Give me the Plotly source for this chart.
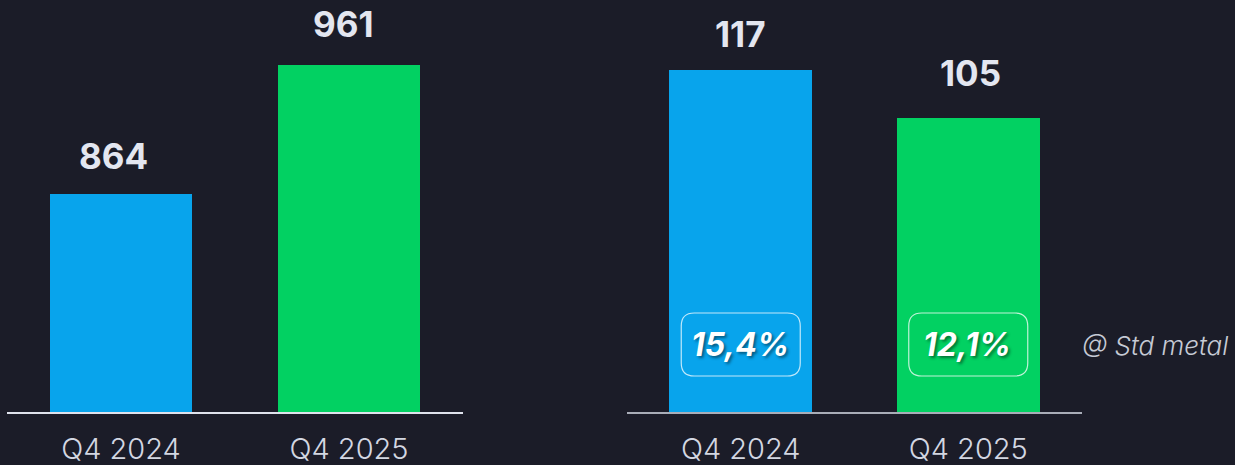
import plotly.graph_objects as go

# ---- data ----
categories = ["Q4 2024", "Q4 2025"]
left_values = [864, 961]
right_values = [117, 105]
right_margins = ["15,4%", "12,1%"]
bar_colors = ["#08a4ec", "#02d162"]
note_text = "@ Std metal"

# label offsets (style)
left_label_shift = [(-8, 15), (-6, 18)]
right_label_shift = [(0, 13), (2, 22)]

W, H = 1235, 465
BG = "#1b1c28"
LABEL_COLOR = "#e3e6f0"
TICK_COLOR = "#d3d7e2"
FONT = "Inter"

fig = go.Figure()
fig.add_trace(go.Bar(x=categories, y=left_values, marker=dict(color=bar_colors, line_width=0),
                     width=0.627, xaxis="x", yaxis="y", hoverinfo="skip", showlegend=False))
fig.add_trace(go.Bar(x=categories, y=right_values, marker=dict(color=bar_colors, line_width=0),
                     width=0.627, xaxis="x2", yaxis="y2", hoverinfo="skip", showlegend=False))

base_px = 412
ydom = [(H - base_px) / H, 1.0]

xaxis_common = dict(
    type="category", range=[-0.5, 1.5], showgrid=False, zeroline=False,
    showline=True, linewidth=2, ticks="", ticklabelstandoff=10, automargin=False,
    tickfont=dict(family=FONT, size=29, color=TICK_COLOR, weight=300),
    fixedrange=True,
)
yaxis_common = dict(visible=False, showgrid=False, zeroline=False, fixedrange=True,
                    domain=ydom, automargin=False)

fig.update_layout(
    width=W, height=H,
    paper_bgcolor=BG, plot_bgcolor=BG,
    margin=dict(l=0, r=0, t=0, b=0, autoexpand=False),
    bargap=0,
    xaxis=dict(domain=[7 / W, 463 / W], linecolor="#dfe2ec", anchor="y", **xaxis_common),
    xaxis2=dict(domain=[627 / W, 1082 / W], linecolor="#a9adb8", anchor="y2", **xaxis_common),
    yaxis=dict(range=[700, 1009.8], anchor="x", **yaxis_common),
    yaxis2=dict(range=[31.5, 134.5], anchor="x2", **yaxis_common),
)

annotations = []
# value labels above bars
for c, v, (dx, dy) in zip(categories, left_values, left_label_shift):
    annotations.append(dict(x=c, y=v, xref="x", yref="y", text=f"<b>{v}</b>", showarrow=False,
                            yanchor="bottom", yshift=dy, xshift=dx,
                            font=dict(family=FONT, size=35, color=LABEL_COLOR)))
for c, v, (dx, dy) in zip(categories, right_values, right_label_shift):
    annotations.append(dict(x=c, y=v, xref="x2", yref="y2", text=f"<b>{v}</b>", showarrow=False,
                            yanchor="bottom", yshift=dy, xshift=dx,
                            font=dict(family=FONT, size=35, color=LABEL_COLOR)))

# margin percentages in rounded boxes
box_y = (H - 344.5) / H
hw, hh, r = 59.5, 31.5, 13
path = (f"M {-hw + r},{-hh} L {hw - r},{-hh} Q {hw},{-hh} {hw},{-hh + r} "
        f"L {hw},{hh - r} Q {hw},{hh} {hw - r},{hh} L {-hw + r},{hh} "
        f"Q {-hw},{hh} {-hw},{hh - r} L {-hw},{-hh + r} Q {-hw},{-hh} {-hw + r},{-hh} Z")
shapes = []
for i, (c, m) in enumerate(zip(categories, right_margins)):
    shapes.append(dict(type="path", xref="x2", yref="paper", xsizemode="pixel", ysizemode="pixel",
                       xanchor=i, yanchor=box_y, path=path,
                       line=dict(color="rgba(255,255,255,0.75)", width=1.2),
                       fillcolor="rgba(0,0,0,0)"))
    annotations.append(dict(x=c, y=box_y, xref="x2", yref="paper", text=f"<b><i>{m}</i></b>",
                            showarrow=False, xanchor="center", yanchor="middle", xshift=-1,
                            font=dict(family=FONT, size=32, color="#ffffff",
                                      shadow="2px 2px 3px rgba(0,0,0,0.45)")))

annotations.append(dict(x=1080 / W, y=(H - 345) / H, xref="paper", yref="paper",
                        text=f"<i>{note_text}</i>", showarrow=False,
                        xanchor="left", yanchor="middle",
                        font=dict(family=FONT, size=26, color="#c6cad5", weight=300)))

fig.update_layout(annotations=annotations, shapes=shapes)
fig.write_html(
    "out.html",
    config={"displayModeBar": False},
    post_script=f"document.body.style.margin='0';document.body.style.background='{BG}';"
                "document.body.style.overflow='hidden';",
)
